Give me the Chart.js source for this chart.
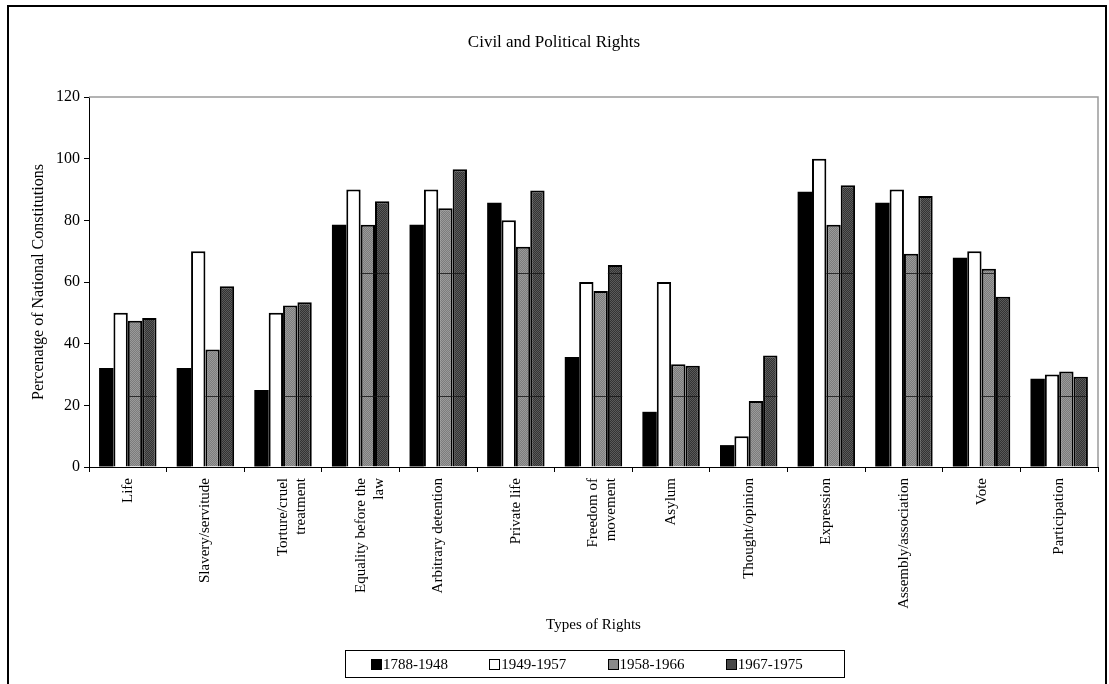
<!DOCTYPE html>
<html lang="en">
<head>
<meta charset="UTF-8">
<title>Civil and Political Rights</title>
<script src="https://cdn.jsdelivr.net/npm/chart.js"></script>
<style>
    body {
        margin: 0;
        background: #fff;
        font-family: "Liberation Serif", "Times New Roman", serif;
    }
    #wrap {
        position: absolute;
        left: 0;
        top: 0;
        width: 1109px;
        height: 684px;
        overflow: hidden;
    }
    .frame {
        position: absolute;
        left: 7px;
        top: 5px;
        width: 1100px;
        height: 720px;
        border: 2px solid #000;
        box-sizing: border-box;
    }
    #chart {
        position: absolute;
        left: 0;
        top: 0;
    }
    .legend {
        position: absolute;
        left: 345px;
        top: 650px;
        width: 500px;
        height: 28px;
        border: 1px solid #000;
        box-sizing: border-box;
        display: flex;
        align-items: center;
        padding-left: 25px;
        font-size: 15px;
        color: #000;
    }
    .legend span.item {
        display: inline-flex;
        align-items: center;
        width: 126.5px;
    }
    .legend span.box {
        display: inline-block;
        width: 11px;
        height: 11px;
        border: 1px solid #000;
        box-sizing: border-box;
        margin-right: 1px;
    }
</style>
</head>
<body>
<div id="wrap">
    <div class="frame"></div>
    <canvas id="chart" width="1109" height="684"></canvas>
    <div class="legend" id="legend"></div>
</div>

<script>
    const categories = ["Life", "Slavery/servitude", ["Torture/cruel", "treatment"], ["Equality before the", "law"],
        "Arbitrary detention", "Private life", ["Freedom of", "movement"], "Asylum", "Thought/opinion",
        "Expression", "Assembly/association", "Vote", "Participation"];
    const periods = ["1788-1948", "1949-1957", "1958-1966", "1967-1975"];
    const values1788 = [32.1, 32.1, 25.0, 78.6, 78.6, 85.7, 35.7, 17.9, 7.1, 89.3, 85.7, 67.9, 28.6];
    const values1949 = [50, 70, 50, 90, 90, 80, 60, 60, 10, 100, 90, 70, 30];
    const values1958 = [47.4, 38.1, 52.4, 78.6, 83.9, 71.4, 57.1, 33.3, 21.4, 78.6, 69.2, 64.3, 31.0];
    const values1967 = [48.3, 58.6, 53.4, 86.2, 96.6, 89.7, 65.5, 32.8, 36.2, 91.4, 87.9, 55.2, 29.3];
    const yTicks = [0, 20, 40, 60, 80, 100, 120];

    const fontFamily = '"Liberation Serif", "Times New Roman", serif';

    // small checker tiles for the two shaded series
    function checker(c1, c2) {
        const t = document.createElement('canvas');
        t.width = 2;
        t.height = 2;
        const g = t.getContext('2d');
        g.fillStyle = c1;
        g.fillRect(0, 0, 2, 2);
        g.fillStyle = c2;
        g.fillRect(0, 0, 1, 1);
        g.fillRect(1, 1, 1, 1);
        return g.createPattern(t, 'repeat');
    }

    const ctx = document.getElementById('chart').getContext('2d');
    const fills = ['#000000', '#ffffff', checker('#7c7c7c', '#9a9a9a'), checker('#333333', '#5a5a5a')];
    const swatches = ['#000', '#fff', '#8a8a8a', '#474747'];
    const seriesValues = [values1788, values1949, values1958, values1967];

    // gray frame on the top and right of the plot
    const plotFrame = {
        id: 'plotFrame',
        beforeDatasetsDraw(chart) {
            const a = chart.chartArea;
            const c = chart.ctx;
            c.save();
            c.strokeStyle = '#9a9a9a';
            c.lineWidth = 1.5;
            c.beginPath();
            c.moveTo(a.left, a.top);
            c.lineTo(a.right, a.top);
            c.lineTo(a.right, a.bottom);
            c.stroke();
            c.restore();
        }
    };

    // dark seams running through the shaded fills
    const fillSeams = {
        id: 'fillSeams',
        afterDatasetsDraw(chart) {
            const y = chart.scales.y;
            const c = chart.ctx;
            c.save();
            c.strokeStyle = 'rgba(20,20,20,0.8)';
            c.lineWidth = 1;
            [2, 3].forEach(di => {
                chart.getDatasetMeta(di).data.forEach(bar => {
                    [23, 63].forEach(v => {
                        const py = Math.round(y.getPixelForValue(v)) + 0.5;
                        if (py > bar.y + 2) {
                            c.beginPath();
                            c.moveTo(bar.x - bar.width / 2, py);
                            c.lineTo(bar.x + bar.width / 2, py);
                            c.stroke();
                        }
                    });
                });
            });
            c.restore();
        }
    };

    const chart = new Chart(ctx, {
        type: 'bar',
        data: {
            labels: categories,
            datasets: periods.map((p, i) => ({
                label: p,
                data: seriesValues[i],
                backgroundColor: fills[i],
                borderColor: '#000',
                borderWidth: i === 0 ? 0 : 2,
                categoryPercentage: 0.74,
                barPercentage: 1.0
            }))
        },
        options: {
            responsive: false,
            animation: false,
            layout: {
                padding: { top: 20, right: 11, left: 10, bottom: 42 }
            },
            plugins: {
                legend: { display: false },
                tooltip: { enabled: false },
                title: {
                    display: true,
                    text: 'Civil and Political Rights',
                    color: '#000',
                    font: { family: fontFamily, size: 17, weight: 'normal' },
                    padding: { top: 12.8, bottom: 43.8 }
                }
            },
            scales: {
                x: {
                    grid: { offset: true, drawOnChartArea: false, tickLength: 5, color: '#000' },
                    border: { color: '#000', width: 1 },
                    ticks: {
                        autoSkip: false,
                        maxRotation: 90,
                        minRotation: 90,
                        padding: 6,
                        color: '#000',
                        font: { family: fontFamily, size: 15 }
                    },
                    title: {
                        display: true,
                        text: 'Types of Rights',
                        color: '#000',
                        font: { family: fontFamily, size: 15 },
                        padding: { top: 0, bottom: 8 }
                    },
                    afterFit(scale) {
                        scale.height = 175;
                    }
                },
                y: {
                    min: 0,
                    max: 120,
                    afterBuildTicks(scale) {
                        scale.ticks = yTicks.map(v => ({ value: v }));
                    },
                    grid: { drawOnChartArea: false, tickLength: 5, color: '#000' },
                    border: { color: '#000', width: 1 },
                    ticks: {
                        padding: 4,
                        color: '#000',
                        font: { family: fontFamily, size: 16 }
                    },
                    title: {
                        display: true,
                        text: 'Percenatge of National Constitutions',
                        color: '#000',
                        font: { family: fontFamily, size: 16 },
                        padding: { top: 19.4, bottom: 0 }
                    },
                    afterFit(scale) {
                        scale.width = 79;
                    }
                }
            }
        },
        plugins: [plotFrame, fillSeams]
    });

    // legend row
    const legend = document.getElementById('legend');
    periods.forEach((p, i) => {
        const item = document.createElement('span');
        item.className = 'item';
        const box = document.createElement('span');
        box.className = 'box';
        box.style.background = swatches[i];
        item.appendChild(box);
        item.appendChild(document.createTextNode(p));
        legend.appendChild(item);
    });
</script>
</body>
</html>
